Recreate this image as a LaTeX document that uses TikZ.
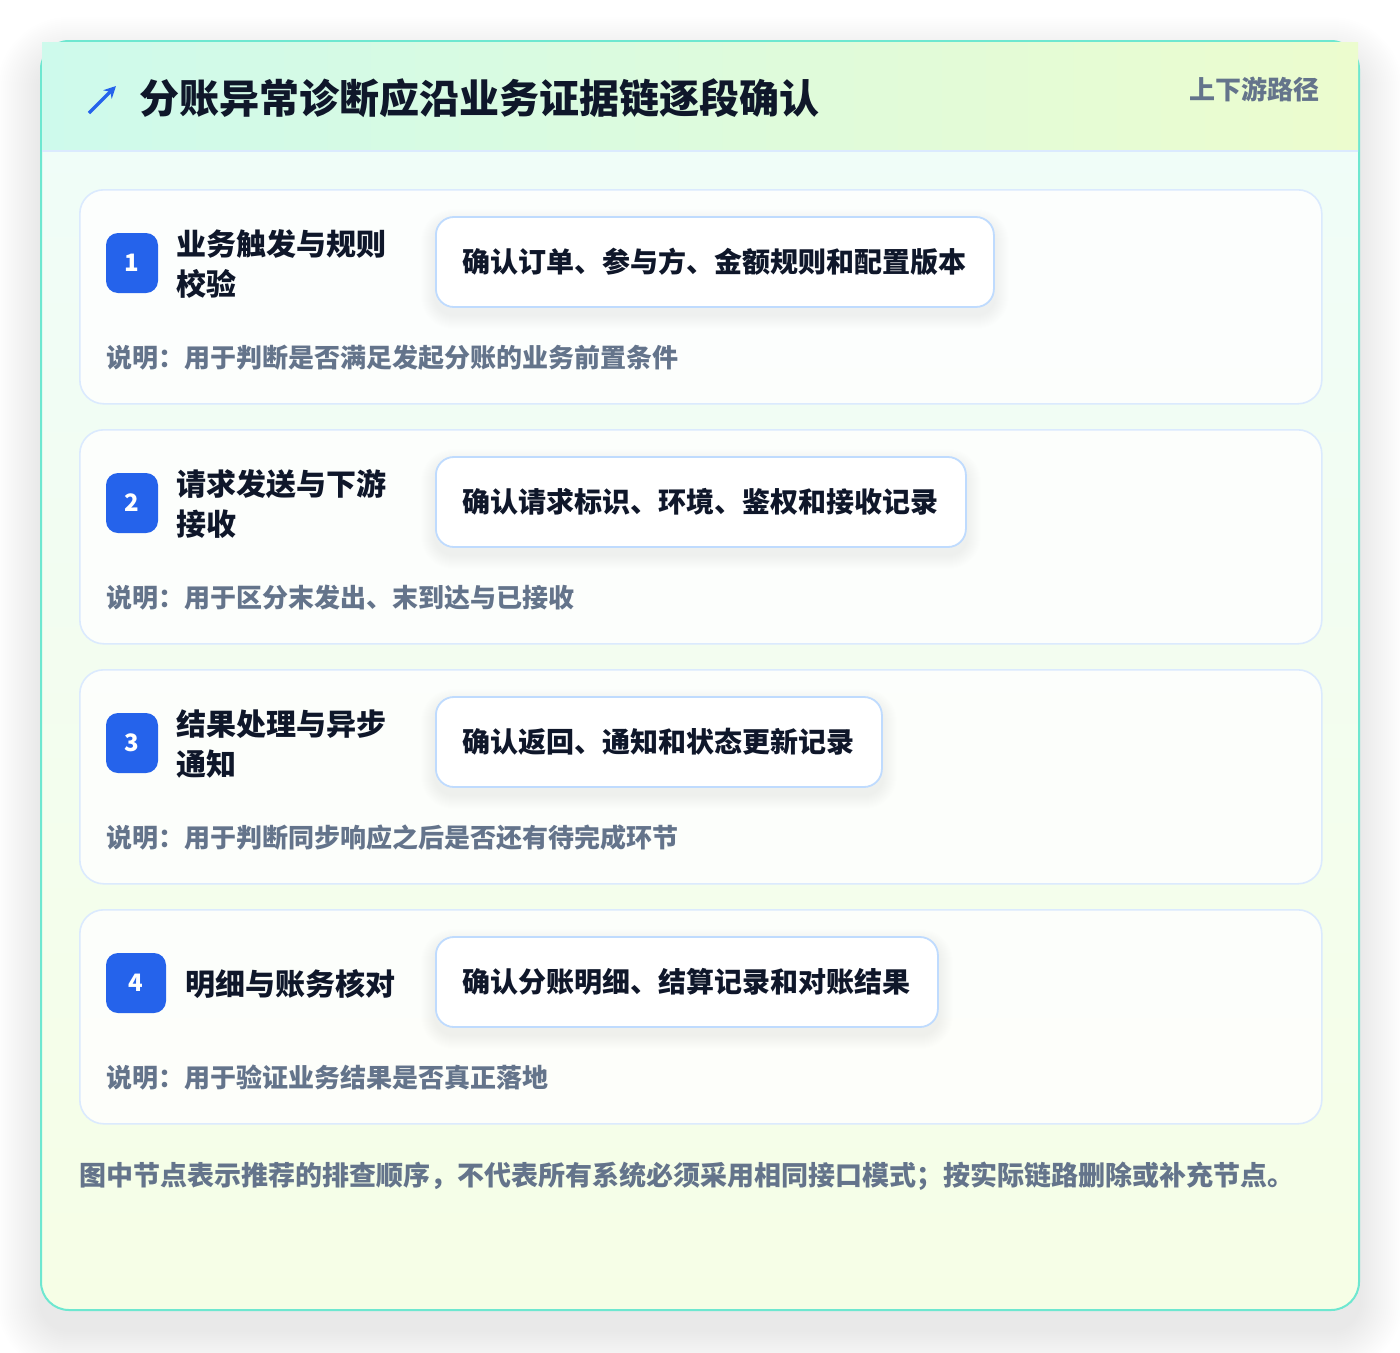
\documentclass[tikz,border=0pt]{standalone}
\usepackage{fontspec}
\setmainfont{Noto Sans CJK SC}
\usetikzlibrary{arrows.meta}
\definecolor{outerline}{RGB}{110,231,208}
\definecolor{headL}{RGB}{206,250,236}
\definecolor{headR}{RGB}{236,252,206}
\definecolor{bodyT}{RGB}{240,253,248}
\definecolor{bodyB}{RGB}{246,254,230}
\definecolor{divider}{RGB}{219,234,254}
\definecolor{cardline}{RGB}{219,234,254}
\definecolor{pillline}{RGB}{191,219,254}
\definecolor{badgeblue}{RGB}{37,99,235}
\definecolor{ink}{RGB}{15,23,42}
\definecolor{muted}{RGB}{100,116,139}
\pgfdeclarelayer{bgl}
\pgfdeclarelayer{cardl}
\pgfdeclarelayer{pshadow}
\pgfsetlayers{bgl,cardl,pshadow,main}
\tikzset{
  card/.style={draw=cardline, line width=1.6pt, fill=white, fill opacity=0.8, rounded corners=24pt,
    minimum width=1242pt, minimum height=214pt, inner sep=0pt},
  badge/.style={fill=badgeblue, rounded corners=12pt, minimum height=60pt, inner sep=0pt,
    text=white, font=\fontsize{24}{28}\selectfont\bfseries},
  pill/.style={draw=pillline, line width=1.8pt, fill=white, rounded corners=18pt, minimum height=90pt,
    inner xsep=27pt, inner ysep=0pt, text height=23pt, text depth=2pt, text=ink,
    font=\fontsize{28}{32}\selectfont\bfseries},
  steptitle/.style={anchor=base west, inner sep=0pt, text=ink, font=\fontsize{30}{40}\selectfont\bfseries},
  desctext/.style={anchor=base west, inner sep=0pt, text=muted, font=\fontsize{26}{30}\selectfont\bfseries},
}
% #1 number, #2 top y, #3 badge width, #4 title x, #5 title baseline offset, #6 title, #7 pill, #8 desc
\newcommand\stepcard[8]{%
  \begin{pgfonlayer}{cardl}
    \node[card, anchor=north west] (card#1) at (79,#2) {};
  \end{pgfonlayer}
  \node[badge, minimum width=#3pt] (badge#1) at ({106+#3/2},{#2+74}) {#1};
  \node[steptitle] (title#1) at (#4,{#2+#5}) {\parbox[t]{250pt}{\raggedright #6}};
  \node[pill, anchor=west] (pill#1) at (435,{#2+73}) {#7};
  \begin{pgfonlayer}{pshadow}
    \foreach \i in {1,...,14}{
      \fill[black, opacity=0.004, rounded corners={(18+\i)*1pt}]
        ([xshift=-\i pt, yshift={-7pt+\i pt}]pill#1.north west) rectangle ([xshift=\i pt, yshift={-7pt-\i pt}]pill#1.south east);
    }
  \end{pgfonlayer}
  \node[desctext] (desc#1) at (106,{#2+178}) {#8};
}
\begin{document}
\begin{tikzpicture}[x=1pt,y=-1pt]
\useasboundingbox (0,0) rectangle (1400,1352);
\begin{pgfonlayer}{bgl}
  \fill[white] (0,0) rectangle (1400,1352);
  \foreach \i in {2,4,...,44}{
    \fill[black, opacity=0.0045, rounded corners={(28+\i)*1pt}] ({41-\i},{41-\i+20}) rectangle ({1359+\i},{1310+\i+20});
  }
  \begin{scope}
    \clip[rounded corners=28pt] (41,41) rectangle (1359,1310);
    \shade[top color=bodyT, bottom color=bodyB] (41,140) rectangle (1359,1310);
  \end{scope}
  \draw[outerline, line width=2pt, rounded corners=28pt] (41,41) rectangle (1359,1310);
  \shade[left color=headL, right color=headR] (42,42) rectangle (1358,151);
  \draw[divider, line width=1.5pt] (42,151) -- (1358,151);
\end{pgfonlayer}
\coordinate (arrS) at (89,113);
\coordinate (arrE) at (116,86);
\draw[badgeblue, line width=3.2pt, -{Stealth[length=12pt,width=12pt]}] (arrS) -- (arrE);
\node[anchor=base west, inner sep=0pt, text=ink, font=\fontsize{40}{48}\selectfont\bfseries] (maintitle) at (139,113) {分账异常诊断应沿业务证据链逐段确认};
\node[anchor=base east, inner sep=0pt, text=muted, font=\fontsize{26}{30}\selectfont\bfseries] (tag) at (1320,99) {上下游路径};
\stepcard{1}{189}{52}{176}{66}{业务触发与规则\\校验}{确认订单、参与方、金额规则和配置版本}{说明：用于判断是否满足发起分账的业务前置条件}
\stepcard{2}{429}{52}{176}{66}{请求发送与下游\\接收}{确认请求标识、环境、鉴权和接收记录}{说明：用于区分末发出、末到达与已接收}
\stepcard{3}{669}{52}{176}{66}{结果处理与异步\\通知}{确认返回、通知和状态更新记录}{说明：用于判断同步响应之后是否还有待完成环节}
\stepcard{4}{909}{60}{185}{86}{明细与账务核对}{确认分账明细、结算记录和对账结果}{说明：用于验证业务结果是否真正落地}
\node[anchor=base west, inner sep=0pt, text=muted, font=\fontsize{27}{32}\selectfont\bfseries] (footnote) at (79,1185) {图中节点表示推荐的排查顺序，不代表所有系统必须采用相同接口模式；按实际链路删除或补充节点。};
\end{tikzpicture}
\end{document}
